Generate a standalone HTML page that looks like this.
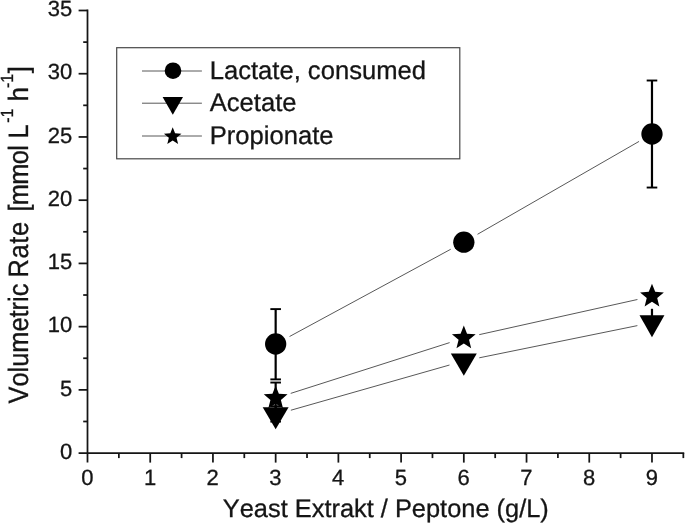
<!DOCTYPE html>
<html><head><meta charset="utf-8"><title>Volumetric Rate vs Yeast Extrakt / Peptone</title>
<style>
html,body{margin:0;padding:0;background:#fff;}
svg{display:block;will-change:transform;}
text{font-family:"Liberation Sans",Arial,sans-serif;fill:#151515;font-kerning:none;text-rendering:geometricPrecision;stroke:#151515;stroke-width:0.3px;}
.tl{font-size:22px;}
.ax{font-size:25.4px;}
.lg{font-size:25.6px;}
</style></head><body>
<svg width="685" height="523" viewBox="0 0 685 523">
<rect width="685" height="523" fill="#fff"/>
<g stroke="#151515" stroke-width="1.75" fill="none" stroke-linecap="butt">
<line x1="87.5" y1="9.62" x2="87.5" y2="462.6"/>
<line x1="78.6" y1="453.1" x2="684.22" y2="453.1"/>
<line x1="78.6" y1="389.87" x2="87.5" y2="389.87"/>
<line x1="78.6" y1="326.64" x2="87.5" y2="326.64"/>
<line x1="78.6" y1="263.41" x2="87.5" y2="263.41"/>
<line x1="78.6" y1="200.18" x2="87.5" y2="200.18"/>
<line x1="78.6" y1="136.95" x2="87.5" y2="136.95"/>
<line x1="78.6" y1="73.72" x2="87.5" y2="73.72"/>
<line x1="78.6" y1="10.49" x2="87.5" y2="10.49"/>
<line x1="83.2" y1="421.49" x2="87.5" y2="421.49"/>
<line x1="83.2" y1="358.25" x2="87.5" y2="358.25"/>
<line x1="83.2" y1="295.02" x2="87.5" y2="295.02"/>
<line x1="83.2" y1="231.80" x2="87.5" y2="231.80"/>
<line x1="83.2" y1="168.56" x2="87.5" y2="168.56"/>
<line x1="83.2" y1="105.33" x2="87.5" y2="105.33"/>
<line x1="83.2" y1="42.11" x2="87.5" y2="42.11"/>
<line x1="150.22" y1="453.1" x2="150.22" y2="462.6"/>
<line x1="212.94" y1="453.1" x2="212.94" y2="462.6"/>
<line x1="275.66" y1="453.1" x2="275.66" y2="462.6"/>
<line x1="338.38" y1="453.1" x2="338.38" y2="462.6"/>
<line x1="401.10" y1="453.1" x2="401.10" y2="462.6"/>
<line x1="463.82" y1="453.1" x2="463.82" y2="462.6"/>
<line x1="526.54" y1="453.1" x2="526.54" y2="462.6"/>
<line x1="589.26" y1="453.1" x2="589.26" y2="462.6"/>
<line x1="651.98" y1="453.1" x2="651.98" y2="462.6"/>
<line x1="118.86" y1="453.1" x2="118.86" y2="458.1"/>
<line x1="181.58" y1="453.1" x2="181.58" y2="458.1"/>
<line x1="244.30" y1="453.1" x2="244.30" y2="458.1"/>
<line x1="307.02" y1="453.1" x2="307.02" y2="458.1"/>
<line x1="369.74" y1="453.1" x2="369.74" y2="458.1"/>
<line x1="432.46" y1="453.1" x2="432.46" y2="458.1"/>
<line x1="495.18" y1="453.1" x2="495.18" y2="458.1"/>
<line x1="557.90" y1="453.1" x2="557.90" y2="458.1"/>
<line x1="620.62" y1="453.1" x2="620.62" y2="458.1"/>
<line x1="683.34" y1="453.1" x2="683.34" y2="458.1"/>
</g>
<g class="tl">
<text x="72.2" y="458.85" text-anchor="end">0</text>
<text x="72.2" y="395.62" text-anchor="end">5</text>
<text x="72.2" y="332.39" text-anchor="end">10</text>
<text x="72.2" y="269.16" text-anchor="end">15</text>
<text x="72.2" y="205.93" text-anchor="end">20</text>
<text x="72.2" y="142.70" text-anchor="end">25</text>
<text x="72.2" y="79.47" text-anchor="end">30</text>
<text x="72.2" y="16.24" text-anchor="end">35</text>
<text x="87.30" y="485.4" text-anchor="middle">0</text>
<text x="150.02" y="485.4" text-anchor="middle">1</text>
<text x="212.74" y="485.4" text-anchor="middle">2</text>
<text x="275.46" y="485.4" text-anchor="middle">3</text>
<text x="338.18" y="485.4" text-anchor="middle">4</text>
<text x="400.90" y="485.4" text-anchor="middle">5</text>
<text x="463.62" y="485.4" text-anchor="middle">6</text>
<text x="526.34" y="485.4" text-anchor="middle">7</text>
<text x="589.06" y="485.4" text-anchor="middle">8</text>
<text x="651.78" y="485.4" text-anchor="middle">9</text>
</g>
<text class="ax" x="385.8" y="516.9" text-anchor="middle">Yeast Extrakt / Peptone (g/L)</text>
<g class="ax" transform="translate(27.8 0) rotate(-90) scale(1 1.1)" text-anchor="middle">
<text x="-343.58" y="0">Volumetric</text>
<text x="-249.73" y="0" textLength="55.6" lengthAdjust="spacing">Rate</text>
<text x="-178.39" y="0" textLength="66.4" lengthAdjust="spacing">[mmol</text>
<text x="-131.44" y="0">L</text>
<text x="-115.65" y="-13.2" font-size="16px">-1</text>
<text x="-94.19" y="0">h</text>
<text x="-81.00" y="-13.2" font-size="16px">-1</text>
<text x="-69.67" y="0">]</text>
</g>
<g stroke="#585858" stroke-width="1" fill="none">
<line x1="289.55" y1="336.50" x2="450.72" y2="249.26"/>
<line x1="477.52" y1="234.29" x2="639.06" y2="141.42"/>
<line x1="290.86" y1="410.22" x2="449.49" y2="365.03"/>
<line x1="479.30" y1="357.80" x2="637.38" y2="325.62"/>
<line x1="290.71" y1="393.39" x2="449.63" y2="342.62"/>
<line x1="479.24" y1="334.65" x2="637.43" y2="299.51"/>
</g>
<g stroke="#000" stroke-width="2.2" fill="none">
<line x1="275.66" y1="309.10" x2="275.66" y2="379.38"/><line x1="270.36" y1="309.10" x2="280.96" y2="309.10" stroke-width="1.9"/><line x1="270.36" y1="379.38" x2="280.96" y2="379.38" stroke-width="1.9"/>
<line x1="651.98" y1="80.51" x2="651.98" y2="187.54"/><line x1="646.68" y1="80.51" x2="657.28" y2="80.51" stroke-width="1.9"/><line x1="646.68" y1="187.54" x2="657.28" y2="187.54" stroke-width="1.9"/>
<line x1="275.66" y1="382.55" x2="275.66" y2="421.60"/><line x1="270.36" y1="382.55" x2="280.96" y2="382.55" stroke-width="1.9"/><line x1="270.36" y1="421.60" x2="280.96" y2="421.60" stroke-width="1.9"/>
<line x1="275.66" y1="406.20" x2="275.66" y2="421.60"/><line x1="270.36" y1="406.20" x2="280.96" y2="406.20" stroke-width="1.9"/>
<line x1="651.98" y1="308.80" x2="651.98" y2="318.00"/>
</g>
<g fill="#000" stroke="none">
<circle cx="275.66" cy="344.02" r="10.65"/>
<circle cx="463.82" cy="242.16" r="10.65"/>
<circle cx="651.98" cy="134.00" r="10.65"/>
<polygon points="262.71,407.20 288.61,407.20 275.66,429.25"/>
<polygon points="450.82,353.60 476.82,353.60 463.82,375.65"/>
<polygon points="639.53,315.30 664.43,315.30 651.98,337.35"/>
<polygon points="275.66,385.70 278.89,393.75 287.55,394.33 280.89,399.89 283.01,408.31 275.66,403.70 268.31,408.31 270.43,399.89 263.77,394.33 272.43,393.75"/>
<polygon points="463.82,325.58 467.05,333.63 475.71,334.22 469.05,339.78 471.17,348.19 463.82,343.58 456.47,348.19 458.59,339.78 451.93,334.22 460.59,333.63"/>
<polygon points="651.98,283.78 655.21,291.83 663.87,292.42 657.21,297.98 659.33,306.39 651.98,301.78 644.63,306.39 646.75,297.98 640.09,292.42 648.75,291.83"/>
</g>
<rect x="116.7" y="47.7" width="343.1" height="111.1" fill="#fff" stroke="#484848" stroke-width="1.2"/>
<g stroke="#585858" stroke-width="1">
<line x1="142" y1="71.0" x2="201.9" y2="71.0"/>
<line x1="142" y1="103.2" x2="201.9" y2="103.2"/>
<line x1="142" y1="136.0" x2="201.9" y2="136.0"/>
</g>
<g fill="#000">
<circle cx="173.00" cy="70.70" r="8.3"/>
<polygon points="162.60,97.00 183.00,97.00 172.80,114.70"/>
<polygon points="172.70,127.30 175.08,133.23 181.45,133.66 176.55,137.75 178.11,143.94 172.70,140.55 167.29,143.94 168.85,137.75 163.95,133.66 170.32,133.23"/>
</g>
<g class="lg">
<text x="209.7" y="79.2">Lactate, consumed</text>
<text x="209.7" y="111.3">Acetate</text>
<text x="209.7" y="144.3">Propionate</text>
</g>
</svg></body></html>
